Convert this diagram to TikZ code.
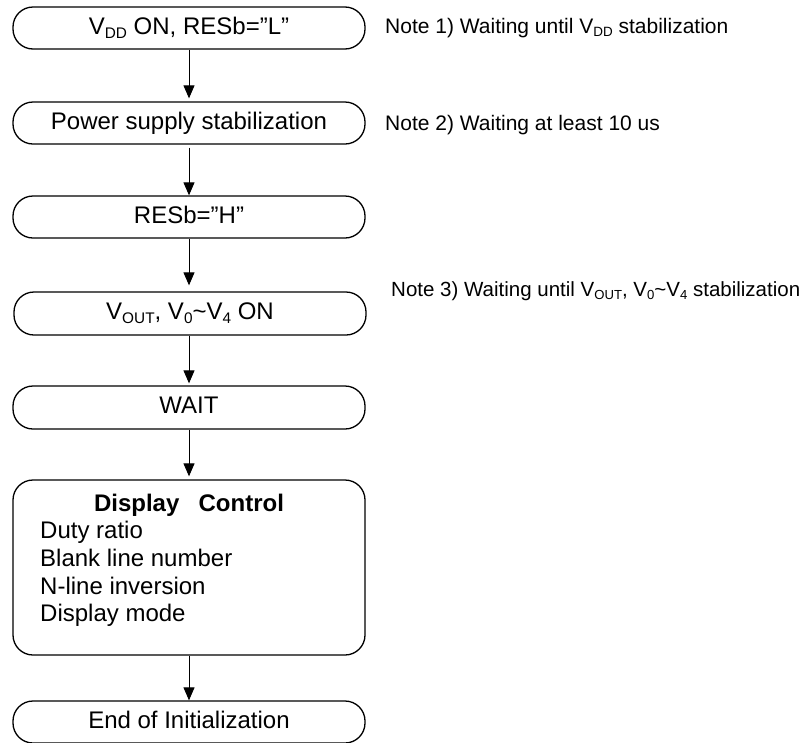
\documentclass[tikz,border=0pt]{standalone}
\usepackage{fontspec}
\usepackage{graphicx}
\setmainfont{Liberation Sans}
\usetikzlibrary{arrows.meta}
\newcommand{\lowsub}[1]{\raisebox{-0.17em}{\scalebox{0.64}{#1}}}
\tikzset{
  flowbox/.style={draw=black, line width=1.3pt, rounded corners=20pt, minimum width=352pt,
    font=\fontsize{24}{27.8}\selectfont, text height=16.5pt, text depth=4.5pt, inner sep=0pt},
  flowarrow/.style={draw=black, line width=1pt, -{Triangle[length=13pt,width=11pt]}},
  notetext/.style={font=\fontsize{21}{25}\selectfont, anchor=base west, inner sep=0pt},
  listtext/.style={font=\fontsize{24}{27.8}\selectfont, anchor=base west, inner sep=0pt}
}
\begin{document}
\begin{tikzpicture}[x=1pt, y=-1pt]
\useasboundingbox (0,0) rectangle (810,742);
\node[flowbox, minimum height=42pt] (b1) at (189,28) {V\lowsub{DD} ON, RESb=”L”};
\node[flowbox, minimum height=42pt] (b2) at (189,123) {Power supply stabilization};
\node[flowbox, minimum height=42pt] (b3) at (189,217) {RESb=”H”};
\node[flowbox, minimum height=43pt] (b4) at (190,313.5) {V\lowsub{OUT}, V\lowsub{0}\textasciitilde V\lowsub{4} ON};
\node[flowbox, minimum height=43pt] (b5) at (189,407.5) {WAIT};
\node[flowbox, minimum height=175pt] (b6) at (189,567.5) {};
\node[flowbox, minimum height=42pt] (b7) at (189,722) {End of Initialization};

\node[font=\fontsize{24}{27.8}\selectfont\bfseries, anchor=base, inner sep=0pt] (t6) at (189,511) {Display\hspace{0.8em}Control};
\node[listtext] (l1) at (40,538) {Duty ratio};
\node[listtext] (l2) at (40,566.5) {Blank line number};
\node[listtext] (l3) at (40,594) {N-line inversion};
\node[listtext] (l4) at (40,621.5) {Display mode};

\node[notetext] (n1) at (385,33) {Note 1) Waiting until V\lowsub{DD} stabilization};
\node[notetext] (n2) at (385,130) {Note 2) Waiting at least 10 us};
\node[notetext, font=\fontsize{20.5}{25}\selectfont] (n3) at (391,296) {Note 3) Waiting until V\lowsub{OUT}, V\lowsub{0}\textasciitilde V\lowsub{4} stabilization};

\draw[flowarrow, shorten >=3pt] (b1.south -| 189,0) -- (b2.north -| 189,0);
\draw[flowarrow, shorten <=3pt] (b2.south -| 189,0) -- (b3.north -| 189,0);
\draw[flowarrow, shorten >=6pt] (b3.south -| 189,0) -- (b4.north -| 189,0);
\draw[flowarrow, shorten >=2pt] (b4.south -| 189,0) -- (b5.north -| 189,0);
\draw[flowarrow, shorten >=3pt] (b5.south -| 189,0) -- (b6.north -| 189,0);
\draw[flowarrow] (b6.south -| 189,0) -- (b7.north -| 189,0);
\end{tikzpicture}
\end{document}
